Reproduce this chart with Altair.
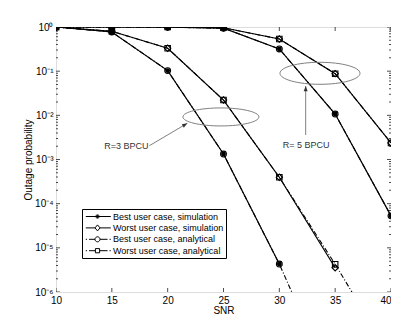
import altair as alt
import pandas as pd

# ---------------- data ----------------
snr = [10, 15, 20, 25, 30, 35, 40]
types = ["Best user case, simulation", "Worst user case, simulation",
         "Best user case, analytical", "Worst user case, analytical"]

# R = 3 BPCU
best_sim_r3 = [1.0, 0.77, 0.103, 1.33e-3, 4.3e-6]
worst_sim_r3 = [1.0, 0.80, 0.33, 0.0222, 3.96e-4, 3.55e-6]
best_ana_r3 = [1.0, 0.77, 0.103, 1.33e-3, 4.3e-6, 6e-9]
worst_ana_r3 = [1.0, 0.80, 0.33, 0.0222, 3.96e-4, 4.25e-6, 3.4e-8]
# R = 5 BPCU
best_sim_r5 = [1.0, 1.0, 0.99, 0.94, 0.318, 0.0107, 5.3e-5]
worst_sim_r5 = [1.0, 1.0, 1.0, 0.96, 0.535, 0.0877, 2.37e-3]
best_ana_r5 = [1.0, 1.0, 0.99, 0.94, 0.318, 0.0107, 5.3e-5]
worst_ana_r5 = [1.0, 1.0, 1.0, 0.96, 0.535, 0.0877, 2.37e-3]

x_ticks = [10, 15, 20, 25, 30, 35, 40]
y_ticks = [1e-6, 1e-5, 1e-4, 1e-3, 1e-2, 1e-1, 1.0]
y_minor = [m * 10.0 ** e for e in range(-6, 0) for m in range(2, 10)]

# annotations (data coordinates)
ellipse_snr = [24.77, 33.64]
ellipse_p = [9.2e-3, 0.0895]
ellipse_w = [76, 80]
ellipse_ratio = [0.237, 0.275]
ann_text = ["R=3 BPCU", "R= 5 BPCU"]
ann_text_snr = [16.3, 32.39]
ann_text_p = [2.05e-3, 2.13e-3]
arrow_from_snr = [18.36, 32.36]
arrow_from_p = [2.05e-3, 3.59e-3]
arrow_to_snr = [21.76, 32.36]
arrow_to_p = [6.6e-3, 0.0461]
arrow_angle = [59.5, 0]

series = [
    (types[0], "r3", best_sim_r3), (types[1], "r3", worst_sim_r3),
    (types[2], "r3", best_ana_r3), (types[3], "r3", worst_ana_r3),
    (types[0], "r5", best_sim_r5), (types[1], "r5", worst_sim_r5),
    (types[2], "r5", best_ana_r5), (types[3], "r5", worst_ana_r5),
]
rows = []
for t, r, vals in series:
    for s, v in zip(snr, vals):
        rows.append({"snr": s, "p": v, "type": t, "series": t + r})
df = pd.DataFrame(rows)

FONT = "Liberation Sans"
W, H = 335, 265

xscale = alt.Scale(domain=[10, 40], nice=False, zero=False)
yscale = alt.Scale(type="log", domain=[1e-6, 1], nice=False)

sup = ("'10' + (datum.value < 0.5 ? '\u207b' : '') + "
       "substring('\u2070\u00b9\u00b2\u00b3\u2074\u2075\u2076', "
       "abs(round(log(datum.value)/LN10)), abs(round(log(datum.value)/LN10)) + 1)")

x_axis = alt.Axis(values=x_ticks, title="SNR", ticks=False, tickSize=0, labelPadding=3,
                  titlePadding=0, titleFontSize=10, titleFontWeight="normal",
                  labelFlush=False, domain=False, grid=False,
                  labelAlign={"condition": {"test": "datum.value >= 40", "value": "right"},
                              "value": "center"})
y_axis = alt.Axis(values=y_ticks, title="Outage probability", labelExpr=sup,
                  ticks=False, tickSize=0, labelPadding=3, titlePadding=1,
                  titleFontSize=10, titleFontWeight="normal", labelFlush=False,
                  domain=False, grid=False)

X = alt.X("snr:Q", scale=xscale, axis=x_axis)
Y = alt.Y("p:Q", scale=yscale, axis=y_axis)

base = alt.Chart(df)

ana_lines = base.transform_filter(
    alt.FieldOneOfPredicate(field="type", oneOf=types[2:])
).mark_line(clip=True, color="black", strokeWidth=1.1, strokeDash=[5, 2, 1, 2]).encode(
    x=X, y=Y, detail="series:N")

sim_lines = base.transform_filter(
    alt.FieldOneOfPredicate(field="type", oneOf=types[:2])
).mark_line(clip=True, color="black", strokeWidth=1.2).encode(
    x=X, y=Y, detail="series:N")

marker_specs = [
    (types[0], "circle", True, 24),
    (types[1], "diamond", False, 40),
    (types[2], "circle", False, 34),
    (types[3], "square", False, 30),
]
point_layers = []
for t, shp, fil, sz in marker_specs:
    point_layers.append(
        base.transform_filter(alt.datum.type == t).mark_point(
            clip=True, shape=shp, filled=fil, size=sz, color="black",
            strokeWidth=1.1, opacity=1
        ).encode(x=X, y=Y)
    )

# inward ticks (clipped half-ticks)
xt = pd.DataFrame({"snr": x_ticks})
yt = pd.DataFrame({"p": y_ticks})
ym = pd.DataFrame({"p": y_minor})
tick_layers = []
for yv in [0, H]:
    tick_layers.append(alt.Chart(xt).mark_tick(clip=True, color="black", thickness=1, size=8)
                       .encode(x=X, y=alt.value(yv)))
for xv in [0, W]:
    tick_layers.append(alt.Chart(yt).mark_tick(clip=True, color="black", thickness=1, size=8)
                       .encode(y=Y, x=alt.value(xv)))
    tick_layers.append(alt.Chart(ym).mark_tick(clip=True, color="black", thickness=1, size=4)
                       .encode(y=Y, x=alt.value(xv)))


def ellipse_path(b):
    k = 0.5523
    bk = round(b * k, 4)
    return (f"M -1 0 C -1 {-bk} {-k} {-b} 0 {-b} C {k} {-b} 1 {-bk} 1 0 "
            f"C 1 {bk} {k} {b} 0 {b} C {-k} {b} -1 {bk} -1 0 Z")


ann_layers = []
for i in range(2):
    edf = pd.DataFrame({"snr": [ellipse_snr[i]], "p": [ellipse_p[i]]})
    ann_layers.append(alt.Chart(edf).mark_point(
        shape=ellipse_path(ellipse_ratio[i]), size=ellipse_w[i] ** 2, color="#808080",
        strokeWidth=1, filled=False, opacity=1).encode(x=X, y=Y))
    adf = pd.DataFrame({"snr": [arrow_from_snr[i]], "p": [arrow_from_p[i]],
                        "snr2": [arrow_to_snr[i]], "p2": [arrow_to_p[i]]})
    ann_layers.append(alt.Chart(adf).mark_rule(color="#808080", strokeWidth=1).encode(
        x=X, y=Y, x2="snr2:Q", y2="p2:Q"))
    hdf = pd.DataFrame({"snr": [arrow_to_snr[i]], "p": [arrow_to_p[i]]})
    ann_layers.append(alt.Chart(hdf).mark_point(
        shape="M 0 0 L 0.38 1 L -0.38 1 Z", size=110, angle=arrow_angle[i],
        filled=True, color="#333333", opacity=1).encode(x=X, y=Y))
    tdf = pd.DataFrame({"snr": [ann_text_snr[i]], "p": [ann_text_p[i]], "t": [ann_text[i]]})
    ann_layers.append(alt.Chart(tdf).mark_text(
        font=FONT, fontSize=9, color="#333333", align="center", baseline="middle"
    ).encode(x=X, y=Y, text="t:N"))


# legend symbols (line + marker drawn as one stroked path)
def circ(cx, r):
    k = 0.5523 * r
    f = lambda v: f"{v:.3f}"
    return (f"M {f(cx - r)} 0 C {f(cx - r)} {f(-k)} {f(cx - k)} {f(-r)} {f(cx)} {f(-r)} "
            f"C {f(cx + k)} {f(-r)} {f(cx + r)} {f(-k)} {f(cx + r)} 0 "
            f"C {f(cx + r)} {f(k)} {f(cx + k)} {f(r)} {f(cx)} {f(r)} "
            f"C {f(cx - k)} {f(r)} {f(cx - r)} {f(k)} {f(cx - r)} 0 Z ")


L, R, M = -0.74, 4.26, 1.6
p_best_sim = f"M {L} 0 L {R} 0 " + circ(M, 0.34) + circ(M, 0.2) + circ(M, 0.07)
p_worst_sim = (f"M {L} 0 L {M - 0.5} 0 M {M + 0.5} 0 L {R} 0 "
               f"M {M - 0.5} 0 L {M} -0.6 L {M + 0.5} 0 L {M} 0.6 Z")
dd = lambda h: (f"M {L} 0 L {L + 0.25} 0 M {L + 0.65} 0 L {M - h} 0 "
                f"M {M + h} 0 L {R - 0.65} 0 M {R - 0.25} 0 L {R} 0 ")
p_best_ana = dd(0.5) + circ(M, 0.5)
p_worst_ana = dd(0.42) + f"M {M - 0.42} -0.42 L {M + 0.42} -0.42 L {M + 0.42} 0.42 L {M - 0.42} 0.42 Z"

leg = alt.Legend(orient="none", legendX=26, legendY=182, title=None, padding=2,
                 strokeColor="black", fillColor="white", labelFontSize=9, labelFont=FONT,
                 labelColor="black", labelOffset=18, symbolSize=100, symbolStrokeWidth=1,
                 symbolStrokeColor="black", rowPadding=0.4, labelLimit=300, cornerRadius=0)
ldf = pd.DataFrame({"type": types})
legend_layer = alt.Chart(ldf).mark_point(clip=True, size=100, color="black", strokeWidth=1,
                                         filled=False, opacity=1).encode(
    x=alt.value(-200), y=alt.value(-200),
    shape=alt.Shape("type:N", scale=alt.Scale(domain=types,
                    range=[p_best_sim, p_worst_sim, p_best_ana, p_worst_ana]), legend=leg),
)

chart = alt.layer(
    ana_lines, sim_lines, *point_layers, *tick_layers, *ann_layers, legend_layer
).properties(
    width=W, height=H,
    padding={"left": 48, "top": 19, "right": 0, "bottom": 22},
    autosize=alt.AutoSizeParams(type="none"),
).configure_view(stroke="black", strokeWidth=1).configure_axis(
    domain=False, ticks=False, tickSize=0, grid=False, labelFont=FONT, labelFontSize=9,
    labelColor="black", titleFont=FONT, titleFontWeight="normal", titleColor="black"
).configure(background="white")

chart.save("out.html", embed_options={"renderer": "svg", "actions": False})
